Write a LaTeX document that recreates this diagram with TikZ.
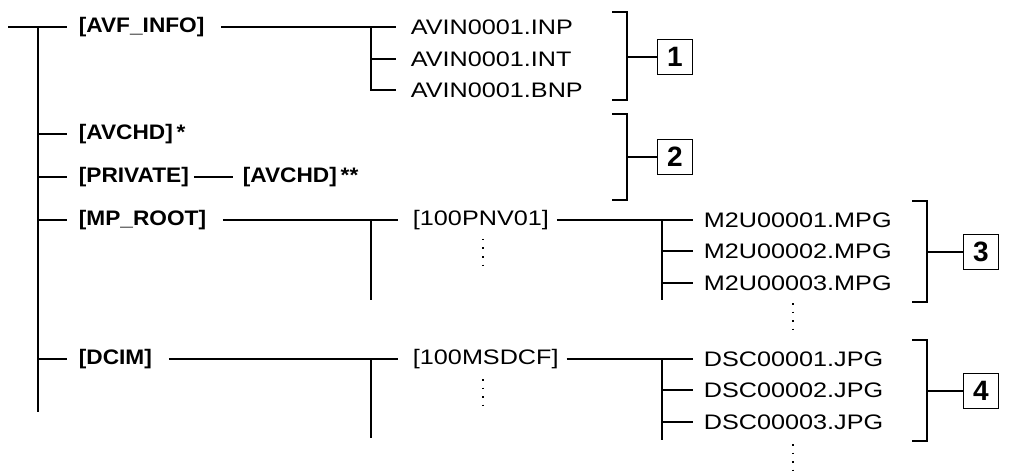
\documentclass[tikz,border=0pt]{standalone}
\usepackage{fontspec}
\setmainfont{Liberation Sans}
\begin{document}
\begin{tikzpicture}[x=1pt,y=-1pt,line width=1.6pt,
  t/.style={anchor=west,inner sep=0pt,font=\fontsize{21}{24}\selectfont,xscale=1.2},
  b/.style={anchor=west,inner sep=0pt,font=\fontsize{21}{24}\selectfont\bfseries,xscale=1.08},
  num/.style={draw,line width=1.4pt,inner sep=0pt,minimum width=35pt,minimum height=35pt,font=\fontsize{28}{30}\selectfont\bfseries},
  dots/.style={line width=1.6pt,dash pattern=on 1.5pt off 7pt}]
\useasboundingbox (0,0) rectangle (1012,473);
% trunk
\coordinate (r0) at (8,27);
\coordinate (tr) at (38,27);
\coordinate (tb) at (38,412);
\draw (r0) -- (tr) -- (tb);
\node[b] (avf) at (78,27) {[AVF\_INFO]};
\node[b] (avchd) at (78,134) {[AVCHD]\,*};
\node[b] (priv) at (78,177) {[PRIVATE]};
\node[b] (avchd2) at (242,177) {[AVCHD]\,**};
\node[b] (mp) at (78,220) {[MP\_ROOT]};
\node[b] (dcim) at (78,359) {[DCIM]};
\foreach \n in {avf,avchd,priv,mp,dcim}
  \draw (38,0 |- \n.west) -- ([xshift=-11pt]\n.west);
\draw ([xshift=4pt]priv.east) -- ([xshift=-9pt]avchd2.west);
% AVF_INFO files
\node[t] (f1) at (410,27) {AVIN0001.INP};
\node[t] (f2) at (410,59) {AVIN0001.INT};
\node[t] (f3) at (410,90) {AVIN0001.BNP};
\draw ([xshift=16pt]avf.east) -- ([xshift=-14pt]f1.west);
\draw (371,27) -- (371,90) -- ([xshift=-14pt]f3.west);
\draw (371,59) -- ([xshift=-14pt]f2.west);
% MP_ROOT
\node[t] (pnv) at (412,220) {[100PNV01]};
\draw ([xshift=16pt]mp.east) -- ([xshift=-14pt]pnv.west);
\draw (371,220) -- (371,300);
\draw[dots] (483,239) -- (483,268);
\node[t] (m1) at (703,220) {M2U00001.MPG};
\node[t] (m2) at (703,251) {M2U00002.MPG};
\node[t] (m3) at (703,283) {M2U00003.MPG};
\draw ([xshift=7pt]pnv.east) -- ([xshift=-10pt]m1.west);
\draw (662,220) -- (662,300);
\draw (662,251) -- ([xshift=-10pt]m2.west);
\draw (662,283) -- ([xshift=-10pt]m3.west);
\draw[dots] (793,303) -- (793,332);
% DCIM
\node[t] (msd) at (412,359) {[100MSDCF]};
\draw ([xshift=16pt]dcim.east) -- ([xshift=-14pt]msd.west);
\draw (371,359) -- (371,438);
\draw[dots] (483,379) -- (483,408);
\node[t] (d1) at (703,359) {DSC00001.JPG};
\node[t] (d2) at (703,390) {DSC00002.JPG};
\node[t] (d3) at (703,422) {DSC00003.JPG};
\draw ([xshift=7pt]msd.east) -- ([xshift=-10pt]d1.west);
\draw (662,359) -- (662,440);
\draw (662,390) -- ([xshift=-10pt]d2.west);
\draw (662,422) -- ([xshift=-10pt]d3.west);
\draw[dots] (793,444) -- (793,472);
% brackets
\node[num] (n1) at (675,57) {1};
\draw (612,12) -- (627,12) -- (627,100) -- (612,100);
\draw (627,57) -- (n1.west);
\node[num] (n2) at (675,157) {2};
\draw (612,114) -- (627,114) -- (627,200) -- (612,200);
\draw (627,157) -- (n2.west);
\node[num] (n3) at (981,252) {3};
\draw (912,201) -- (927,201) -- (927,302) -- (912,302);
\draw (927,252) -- (n3.west);
\node[num] (n4) at (981,391) {4};
\draw (912,340) -- (927,340) -- (927,441) -- (912,441);
\draw (927,391) -- (n4.west);
\end{tikzpicture}
\end{document}
